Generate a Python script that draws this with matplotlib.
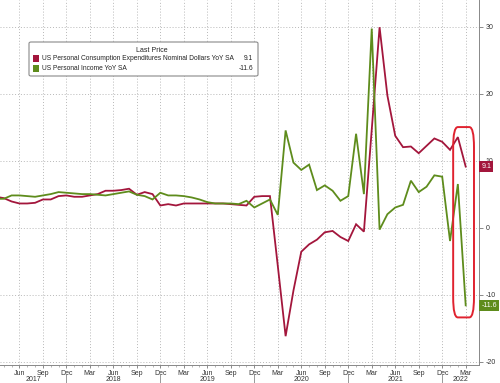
import matplotlib
matplotlib.use("Agg")
import matplotlib.pyplot as plt
import matplotlib.transforms as mtransforms
from matplotlib.patches import FancyBboxPatch, Rectangle
import numpy as np

plt.rcParams['font.family'] = ['Liberation Sans', 'DejaVu Sans']

# Monthly data, Mar 2017 .. Mar 2022
months = ["Jan", "Feb", "Mar", "Apr", "May", "Jun", "Jul", "Aug", "Sep", "Oct", "Nov", "Dec"]
start_year, start_month = 2017, 3  # March 2017

pce = [4.6, 4.4, 3.9, 3.6, 3.6, 3.7, 4.2, 4.2, 4.7, 4.8,
       4.6, 4.6, 4.8, 5.0, 5.5, 5.5, 5.6, 5.8, 4.9, 5.3, 5.0, 3.3,
       3.5, 3.3, 3.6, 3.6, 3.6, 3.6, 3.6, 3.6, 3.5, 3.4, 3.3, 4.6,
       4.7, 4.7, -5.7, -16.2, -9.4, -3.6, -2.5, -1.8, -0.7, -0.5, -1.4, -2.0,
       0.5, -0.6, 14.6, 29.9, 19.7, 13.7, 12.0, 12.1, 11.1, 12.2, 13.3, 12.8,
       11.6, 13.5, 9.1]
income = [4.3, 4.3, 4.8, 4.8, 4.7, 4.6, 4.8, 5.0, 5.3, 5.2,
          5.1, 5.0, 5.0, 4.9, 4.8, 5.0, 5.2, 5.4, 4.9, 4.7, 4.2, 5.2,
          4.8, 4.8, 4.7, 4.5, 4.2, 3.8, 3.6, 3.6, 3.6, 3.5, 4.0, 3.0,
          3.6, 4.2, 1.9, 14.5, 9.7, 8.6, 9.4, 5.6, 6.3, 5.5, 4.0, 4.7,
          14.0, 5.0, 29.7, -0.3, 2.0, 3.0, 3.4, 7.0, 5.3, 6.1, 7.8, 7.6,
          -2.0, 6.5, -11.6]

pce_label = "US Personal Consumption Expenditures Nominal Dollars YoY SA"
inc_label = "US Personal Income YoY SA"
y_ticks = [30, 20, 10, 0, -10, -20]

red = "#a3163c"
green = "#5e8c1c"
grid_c = "#b8b8b8"

n = len(pce)
k = np.arange(n)
mon_idx = [(start_month - 1 + i) % 12 for i in range(n)]
year_of = [start_year + (start_month - 1 + i) // 12 for i in range(n)]

fig = plt.figure(figsize=(5.0, 3.83), dpi=100)
ax = fig.add_axes([0.0, 0.047, 0.958, 0.953])

xmin, xmax = 0.52, 61.7
ax.set_xlim(xmin, xmax)
ax.set_ylim(-20.5, 33.96)

ax.plot(k, pce, color=red, lw=1.3, zorder=3, solid_joinstyle='miter')
ax.plot(k, income, color=green, lw=1.3, zorder=3, solid_joinstyle='miter')

# quarterly ticks (only those inside the visible range)
qpos = [i for i in range(n) if mon_idx[i] in (2, 5, 8, 11) and xmin <= i <= xmax]
ax.set_xticks(qpos)
ax.set_xticklabels([months[mon_idx[i]] for i in qpos], fontsize=5.0, color="#333333")
ax.set_xticks([i for i in k if xmin <= i <= xmax], minor=True)
ax.tick_params(axis='x', which='major', length=2.5, width=0.6, color="#777777", pad=1.2)
ax.tick_params(axis='x', which='minor', length=1.5, width=0.5, color="#999999")

ax.yaxis.tick_right()
ax.set_yticks(y_ticks)
ax.set_yticklabels([str(v) for v in y_ticks], fontsize=5.0, color="#333333")
ax.tick_params(axis='y', length=3, width=0.6, color="#777777", pad=1.5)

for s in ("top", "left"):
    ax.spines[s].set_visible(False)
for s in ("right", "bottom"):
    ax.spines[s].set_color("#888888")
    ax.spines[s].set_linewidth(0.7)

ax.grid(True, which='major', color=grid_c, lw=0.7, linestyle=(0, (1, 2)))

# year separators and labels
trans = mtransforms.blended_transform_factory(ax.transData, ax.transAxes)
dec_pos = [i for i in range(n) if mon_idx[i] == 11]
bounds = [xmin] + dec_pos + [xmax]
for d in dec_pos:
    ax.plot([d, d], [-0.026, -0.05], color="#888888", lw=0.6, transform=trans, clip_on=False)
years = sorted(set(year_of))
for j, yr in enumerate(years):
    c = (bounds[j] + bounds[j + 1]) / 2
    ax.text(c, -0.040, str(yr), transform=trans, ha='center', va='center',
            fontsize=5.0, color="#333333", clip_on=False)

# highlight box around last months
hb = FancyBboxPatch((58.4, -13.4), 61.06 - 58.4, 15.0 + 13.4,
                    boxstyle="round,pad=0,rounding_size=0.6",
                    mutation_aspect=5.0,
                    fc="none", ec="#e0222f", lw=1.4, zorder=4, clip_on=False)
ax.add_patch(hb)

# last value tags
tr2 = mtransforms.blended_transform_factory(ax.transAxes, ax.transData)
ax.text(1.005, pce[-1], f"{pce[-1]}", transform=tr2, ha='left', va='center', fontsize=5.0,
        color='white', bbox=dict(boxstyle="square,pad=0.3", fc=red, ec='none'),
        zorder=6, clip_on=False)
ax.text(1.005, income[-1], f"{income[-1]}", transform=tr2, ha='left', va='center', fontsize=5.0,
        color='white', bbox=dict(boxstyle="square,pad=0.3", fc=green, ec='none'),
        zorder=6, clip_on=False)

# legend box
lx0, ly0, lw_, lh_ = 29 / 500, 1 - 76 / 383, (258 - 29) / 500, (76 - 42) / 383
leg = FancyBboxPatch((lx0, ly0), lw_, lh_, boxstyle="round,pad=0,rounding_size=0.004",
                     transform=fig.transFigure, fc='white', ec='#8a8a8a', lw=0.8, zorder=7)
fig.patches.append(leg)
fig.text(152 / 500, 1 - 50 / 383, "Last Price", ha='center', va='center', fontsize=5.0,
         color="#222222", zorder=8)
for row_y, col, lab, val in ((58, red, pce_label, pce[-1]), (68, green, inc_label, income[-1])):
    fig.patches.append(Rectangle((33 / 500, 1 - (row_y + 3.5) / 383), 6 / 500, 7 / 383,
                                 transform=fig.transFigure, fc=col, ec='none', zorder=8))
    fig.text(42 / 500, 1 - row_y / 383, lab, ha='left', va='center', fontsize=4.8,
             color="#222222", zorder=8)
    fig.text(253 / 500, 1 - row_y / 383, f"{val}", ha='right', va='center', fontsize=4.8,
             color="#222222", zorder=8)

fig.savefig("out.png", dpi=100)
